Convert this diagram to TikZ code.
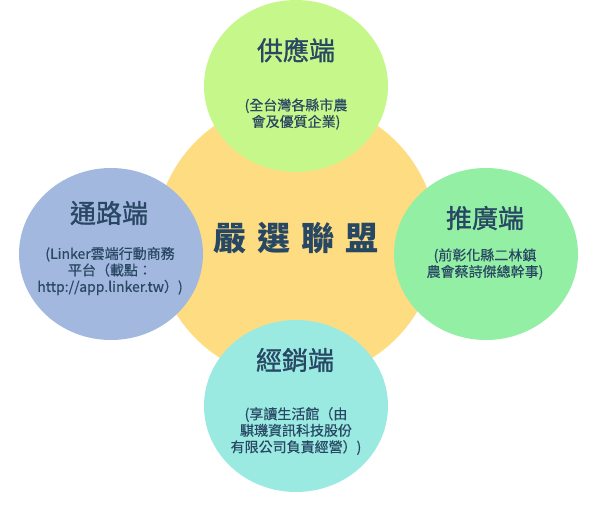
\documentclass[tikz,border=0pt]{standalone}
\usepackage{fontspec}
\usetikzlibrary{shapes, positioning}
\newfontfamily\cjk{Noto Sans CJK TC}
\newfontfamily\cjkmid[FakeBold=1.2]{Noto Sans CJK TC}
\newfontfamily\cjknote[FakeBold=0.4]{Noto Sans CJK TC}
\definecolor{coreFill}{HTML}{FEDC82}
\definecolor{supplyFill}{HTML}{C6F78B}
\definecolor{channelFill}{HTML}{A3B8DF}
\definecolor{promoFill}{HTML}{93EFA4}
\definecolor{dealerFill}{HTML}{9BEAE2}
\definecolor{inkColor}{HTML}{284763}
\tikzstyle{blob}=[ellipse, inner sep=0pt, minimum width=184pt, minimum height=172pt]
\tikzstyle{head}=[text=inkColor, font=\cjkmid\fontsize{26}{28}\selectfont]
\tikzstyle{note}=[text=inkColor, align=center, font=\cjknote\fontsize{14}{16.5}\selectfont]
\tikzstyle{hub}=[text=inkColor, font=\cjk\bfseries\fontsize{33}{36}\selectfont]

\begin{document}
\begin{tikzpicture}[x=1pt, y=-1pt]
      \useasboundingbox (0,0) rectangle (600,520);
      \node (core) [ellipse, fill=coreFill, minimum width=282pt, minimum height=280pt] at (296,240) {};
      \node (supply) [blob, fill=supplyFill] at (296,86) {};
      \node (channel) [blob, fill=channelFill] at (111,254) {};
      \node (promo) [blob, fill=promoFill] at (486,254) {};
      \node (dealer) [blob, fill=dealerFill] at (296,406) {};
      \node (coreText) [hub] at (296,238) {嚴\hspace{11pt}選\hspace{11pt}聯\hspace{11pt}盟};
      \node (supplyHead) [head] at (296,50) {供應端};
      \node (supplyNote) [note] at (296,114) {(全台灣各縣市農\\會及優質企業)};
      \node (channelHead) [head] at (109,213) {通路端};
      \node (channelNote) [note] at (110,271) {(Linker雲端行動商務\\平台（載點：\\http://app.linker.tw）)};
      \node (promoHead) [head] at (485,218) {推廣端};
      \node (promoNote) [note] at (485,264) {(前彰化縣二林鎮\\農會蔡詩傑總幹事)};
      \node (dealerHead) [head] at (295,360) {經銷端};
      \node (dealerNote) [note] at (296,431) {(享讀生活館（由\\騏璣資訊科技股份\\有限公司負責經營）)};
    \end{tikzpicture}
\end{document}
